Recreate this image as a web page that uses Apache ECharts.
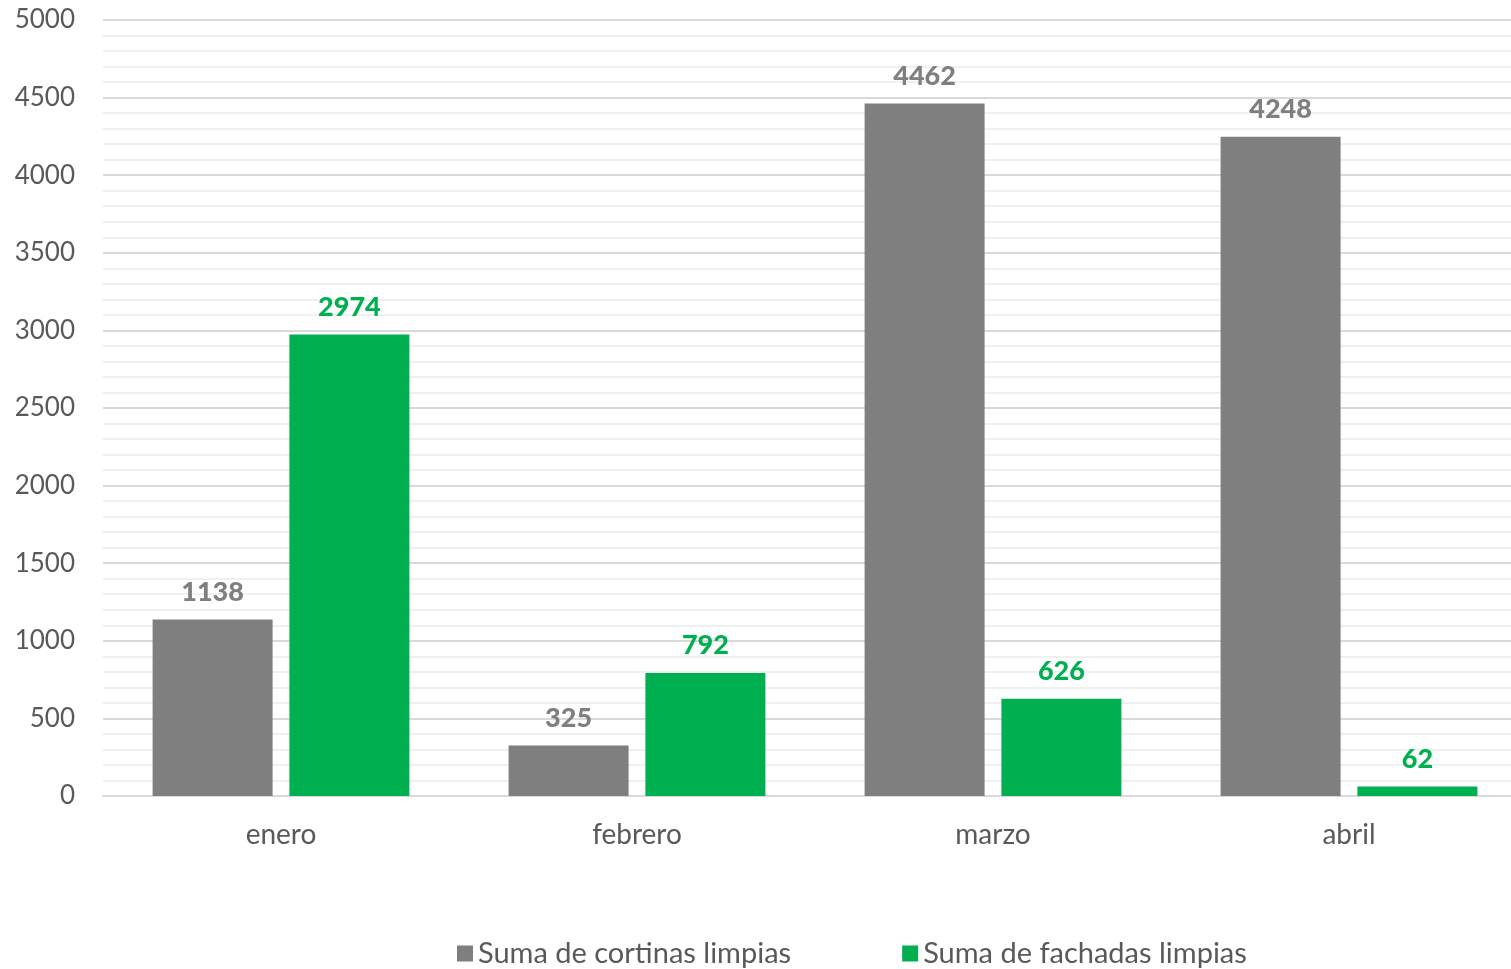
<!DOCTYPE html>
<html><head><meta charset="utf-8">
<script src="https://cdn.jsdelivr.net/npm/echarts@6/dist/echarts.min.js"></script>
<style>html,body{margin:0;padding:0;background:#fff}#c{width:1511px;height:969px}</style>
</head><body><div id="c"></div>
<script>
const categories = ['enero', 'febrero', 'marzo', 'abril'];
const cortinas = [1138, 325, 4462, 4248];
const fachadas = [2974, 792, 626, 62];
const seriesNames = ['Suma de cortinas limpias', 'Suma de fachadas limpias'];
const FONT = '"Source Sans Pro", Lato, "Noto Sans", sans-serif';
const chart = echarts.init(document.getElementById('c'));
chart.setOption({
  animation: false,
  textStyle: { fontFamily: FONT },
  grid: { left: 103, right: -16, top: 20, bottom: 173, outerBoundsMode: 'none', containLabel: false },
  legend: {
    bottom: -4, left: 452, itemWidth: 16, itemHeight: 16, itemGap: 111,
    icon: 'rect',
    textStyle: { fontSize: 29, color: '#595959', fontFamily: FONT },
    data: seriesNames
  },
  xAxis: {
    type: 'category', data: categories,
    axisLine: { lineStyle: { color: '#d9d9d9', width: 2 } },
    axisTick: { show: false },
    axisLabel: { fontSize: 28, color: '#595959', margin: 25, fontFamily: FONT }
  },
  yAxis: {
    type: 'value', min: 0, max: 5000, interval: 500,
    axisLine: { show: false }, axisTick: { show: false },
    axisLabel: { fontSize: 26, color: '#595959', margin: 28, fontFamily: FONT, formatter: v => String(v) },
    splitLine: { lineStyle: { color: '#d9d9d9', width: 2 } },
    minorTick: { show: false, splitNumber: 5 },
    minorSplitLine: { show: true, lineStyle: { color: '#f0f0f0', width: 2 } }
  },
  series: [
    { name: seriesNames[0], type: 'bar', data: cortinas, barWidth: 120, barGap: '14%',
      itemStyle: { color: '#7f7f7f' },
      label: { show: true, position: 'top', distance: 14, fontSize: 27, fontWeight: 900, color: '#7f7f7f', fontFamily: FONT } },
    { name: seriesNames[1], type: 'bar', data: fachadas, barWidth: 120,
      itemStyle: { color: '#00b050' },
      label: { show: true, position: 'top', distance: 14, fontSize: 27, fontWeight: 900, color: '#00b050', fontFamily: FONT } }
  ]
});
</script></body></html>
